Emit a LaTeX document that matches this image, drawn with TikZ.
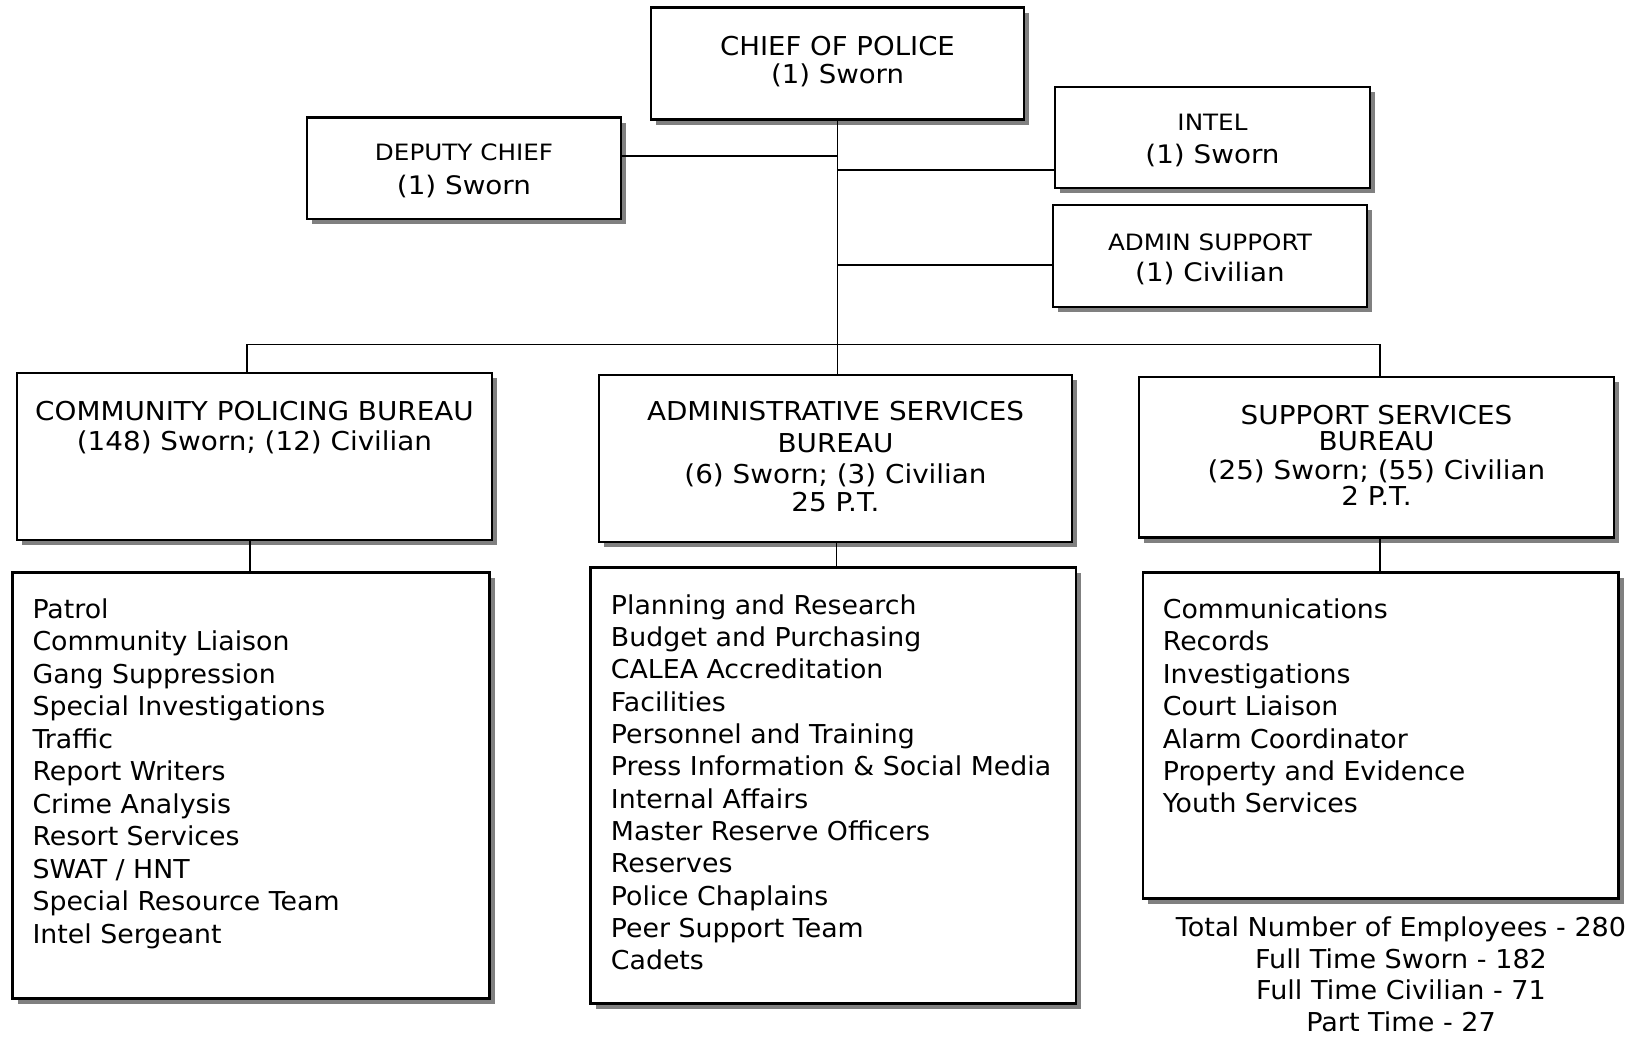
\documentclass[tikz,border=0pt]{standalone}
\usepackage{fontspec}
\setmainfont{DejaVu Sans}
% slightly widened faces for the various text sizes
\newfontfamily\listface[FakeStretch=1.03]{DejaVu Sans}
\newfontfamily\totface[FakeStretch=1.04]{DejaVu Sans}
\newfontfamily\titleface[FakeStretch=1.06]{DejaVu Sans}
\newfontfamily\headface[FakeStretch=1.07]{DejaVu Sans}
\newfontfamily\smallface[FakeStretch=1.095]{DejaVu Sans}
\newfontfamily\midface[FakeStretch=1.09]{DejaVu Sans}
\usetikzlibrary{shadows}

\tikzset{
  orgbox/.style={draw, line width=2.2pt, fill=white, inner sep=0pt,
    drop shadow={shadow xshift=5pt, shadow yshift=-5pt, fill=black!50, opacity=1}},
  conn/.style={line width=1.7pt},
  hdr/.style={anchor=base, inner sep=0pt, font=\headface\fontsize{26}{30}\selectfont},
  bigline/.style={anchor=base, inner sep=0pt, font=\titleface\fontsize{26}{31}\selectfont},
  totline/.style={anchor=base, inner sep=0pt, font=\totface\fontsize{26}{31}\selectfont},
  smallline/.style={anchor=base, inner sep=0pt, font=\smallface\fontsize{22.5}{26}\selectfont},
  midline/.style={anchor=base, inner sep=0pt, font=\midface\fontsize{25.5}{29}\selectfont},
  item/.style={anchor=base west, inner sep=0pt, font=\listface\fontsize{26}{31}\selectfont},
}

\begin{document}
\begin{tikzpicture}[x=1pt, y=-1pt]
\useasboundingbox (0,0) rectangle (1632,1039);

% boxes
\node[orgbox, minimum width=373pt, minimum height=112pt] (chief) at (837.5,63.5) {};
\node[orgbox, minimum width=314pt, minimum height=101.5pt] (deputy) at (464,168.25) {};
\node[orgbox, minimum width=315pt, minimum height=101pt] (intel) at (1212.5,137.5) {};
\node[orgbox, minimum width=314pt, minimum height=102pt] (admin) at (1210,256) {};
\node[orgbox, minimum width=475pt, minimum height=167pt] (cpb) at (254.5,456.5) {};
\node[orgbox, minimum width=473pt, minimum height=167pt] (asb) at (835.5,458.5) {};
\node[orgbox, minimum width=475pt, minimum height=160.5pt] (ssb) at (1376.5,457.25) {};
\node[orgbox, minimum width=477pt, minimum height=426pt] (cpblist) at (251,785.5) {};
\node[orgbox, minimum width=485.5pt, minimum height=436pt] (asblist) at (833.25,785.5) {};
\node[orgbox, minimum width=475.5pt, minimum height=326pt] (ssblist) at (1380.75,735.5) {};

% box titles
\node[bigline] (chiefA) at (837.5,55) {CHIEF OF POLICE};
\node[bigline] (chiefB) at (837.5,83) {(1) Sworn};
\node[smallline] (depA) at (464,160) {DEPUTY CHIEF};
\node[midline] (depB) at (464,194) {(1) Sworn};
\node[smallline] (intA) at (1212.5,130) {INTEL};
\node[midline] (intB) at (1212.5,163.3) {(1) Sworn};
\node[smallline] (admA) at (1210,250) {ADMIN SUPPORT};
\node[midline] (admB) at (1210,281.7) {(1) Civilian};

\node[hdr] (cpbA) at (254.5,420) {COMMUNITY POLICING BUREAU};
\node[hdr] (cpbB) at (254.5,450.7) {(148) Sworn; (12) Civilian};

\node[hdr] (asbA) at (835.5,420.7) {ADMINISTRATIVE SERVICES};
\node[hdr] (asbB) at (835.5,452.5) {BUREAU};
\node[hdr] (asbC) at (835.5,483) {(6) Sworn; (3) Civilian};
\node[hdr] (asbD) at (835.5,511.7) {25 P.T.};

\node[hdr] (ssbA) at (1376.5,424) {SUPPORT SERVICES};
\node[hdr] (ssbB) at (1376.5,450.7) {BUREAU};
\node[hdr] (ssbC) at (1376.5,479.3) {(25) Sworn; (55) Civilian};
\node[hdr] (ssbD) at (1376.5,505) {2 P.T.};

% unit lists
\foreach \t [count=\i] in {Patrol, Community Liaison, Gang Suppression,
    Special Investigations, Traffic, Report Writers, Crime Analysis,
    Resort Services, SWAT / HNT, Special Resource Team, Intel Sergeant}
  \node[item] (cpbi\i) at (32.3,{618.4+32.47*(\i-1)}) {\t};

\foreach \t [count=\i] in {Planning and Research, Budget and Purchasing,
    CALEA Accreditation, Facilities, Personnel and Training,
    Press Information \& Social Media, Internal Affairs,
    Master Reserve Officers, Reserves, Police Chaplains,
    Peer Support Team, Cadets}
  \node[item] (asbi\i) at (610.7,{614+32.36*(\i-1)}) {\t};

\foreach \t [count=\i] in {Communications, Records, Investigations,
    Court Liaison, Alarm Coordinator, Property and Evidence, Youth Services}
  \node[item] (ssbi\i) at (1162.6,{618.4+32.4*(\i-1)}) {\t};

% totals
\node[totline] (totA) at (1401,936) {Total Number of Employees - 280};
\node[totline] (totB) at (1401,968) {Full Time Sworn - 182};
\node[totline] (totC) at (1401,999.5) {Full Time Civilian - 71};
\node[totline] (totD) at (1401,1031) {Part Time - 27};

% connectors
\coordinate (dj) at (838,156);
\coordinate (ij) at (838,170);
\coordinate (aj) at (838,265);
\coordinate (barL) at (247,344.5);
\coordinate (barR) at (1380,344.5);
\coordinate (cs) at (250,0);
\coordinate (as) at (836.5,0);
\coordinate (ss) at (1380,0);

\draw[conn] (chief.south) -- (chief.south |- asb.north);
\draw[conn] (dj) -- (dj -| deputy.east);
\draw[conn] (ij) -- (ij -| intel.west);
\draw[conn] (aj) -- (aj -| admin.west);
\draw[conn] (barL |- cpb.north) -- (barL) -- (barR) -- (barR |- ssb.north);
\draw[conn] (cs |- cpb.south) -- (cs |- cpblist.north);
\draw[conn] (as |- asb.south) -- (as |- asblist.north);
\draw[conn] (ss |- ssb.south) -- (ss |- ssblist.north);
\end{tikzpicture}
\end{document}
